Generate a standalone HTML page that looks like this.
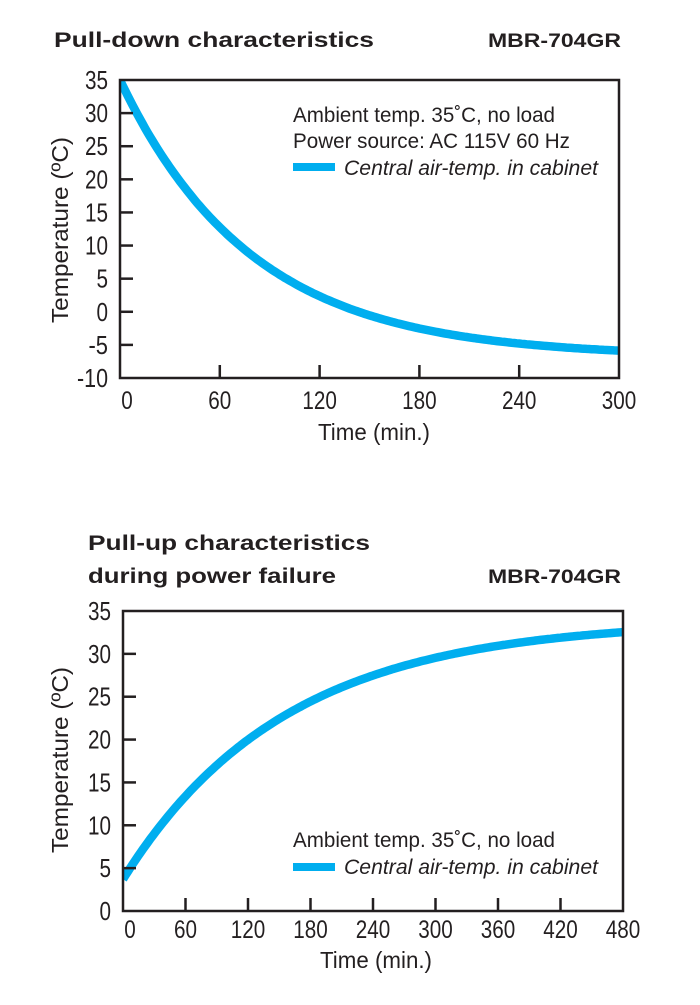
<!DOCTYPE html>
<html><head><meta charset="utf-8"><style>
html,body{margin:0;padding:0;background:#fff;}
svg{display:block;}
text{font-family:"Liberation Sans Narrow","Liberation Sans",sans-serif;fill:#231f20;}
.b{font-family:"Liberation Sans",sans-serif;font-weight:bold;}
</style></head><body>
<svg id="s" width="700" height="1005" xmlns="http://www.w3.org/2000/svg">
<text class="b" x="54" y="47" font-size="21" textLength="320" lengthAdjust="spacingAndGlyphs">Pull-down characteristics</text>
<text class="b" x="488" y="47" font-size="19" textLength="133" lengthAdjust="spacingAndGlyphs">MBR-704GR</text>
<g id="t1"></g>
<text x="293" y="122" font-size="21" textLength="262" lengthAdjust="spacingAndGlyphs">Ambient temp. 35˚C, no load</text>
<text x="293" y="148" font-size="21" textLength="277" lengthAdjust="spacingAndGlyphs">Power source: AC 115V 60 Hz</text>
<line x1="293" y1="167" x2="335" y2="167" stroke="#00aeef" stroke-width="8"/>
<text x="344" y="175" font-size="21" font-style="italic" textLength="254" lengthAdjust="spacingAndGlyphs">Central air-temp. in cabinet</text>
<text x="318" y="440" font-size="23" textLength="112" lengthAdjust="spacingAndGlyphs">Time (min.)</text>
<text transform="translate(68,230) rotate(-90)" text-anchor="middle" font-size="23" textLength="186" lengthAdjust="spacingAndGlyphs">Temperature (ºC)</text>

<text class="b" x="88" y="550" font-size="21" textLength="282" lengthAdjust="spacingAndGlyphs">Pull-up characteristics</text>
<text class="b" x="88" y="583" font-size="21" textLength="248" lengthAdjust="spacingAndGlyphs">during power failure</text>
<text class="b" x="488" y="583" font-size="19" textLength="133" lengthAdjust="spacingAndGlyphs">MBR-704GR</text>
<g id="t2"></g>
<text x="293" y="847" font-size="21" textLength="262" lengthAdjust="spacingAndGlyphs">Ambient temp. 35˚C, no load</text>
<line x1="293" y1="867" x2="335" y2="867" stroke="#00aeef" stroke-width="8"/>
<text x="344" y="874" font-size="21" font-style="italic" textLength="254" lengthAdjust="spacingAndGlyphs">Central air-temp. in cabinet</text>
<text x="320" y="968" font-size="23" textLength="112" lengthAdjust="spacingAndGlyphs">Time (min.)</text>
<text transform="translate(68,760) rotate(-90)" text-anchor="middle" font-size="23" textLength="186" lengthAdjust="spacingAndGlyphs">Temperature (ºC)</text>
</svg>
<script>
var NS="http://www.w3.org/2000/svg";
function el(p,n,a,t){var e=document.createElementNS(NS,n);for(var k in a)e.setAttribute(k,a[k]);if(t!=null)e.textContent=t;p.appendChild(e);return e;}
function tl(s){var w=0;for(var i=0;i<s.length;i++)w+=(s[i]=="-"?8:11.5);return w;}
function chart(g,o){
 var X=function(t){return o.x0+(t/o.tmax)*(o.x1-o.x0);};
 var Y=function(v){return o.y1-(v-o.vmin)/(o.vmax-o.vmin)*(o.y1-o.y0);};
 var d="";for(var t=0;t<=o.tmax;t+=o.tmax/200){d+=(t?"L":"M")+X(t).toFixed(1)+","+Y(o.f(t)).toFixed(1);}
 var cp=el(g,"clipPath",{id:o.id});el(cp,"rect",{x:o.x0,y:o.y0,width:o.x1-o.x0,height:o.y1-o.y0});
 el(g,"path",{d:d,fill:"none",stroke:"#00aeef","stroke-width":8.5,"clip-path":"url(#"+o.id+")"});
 el(g,"rect",{x:o.x0,y:o.y0,width:o.x1-o.x0,height:o.y1-o.y0,fill:"none",stroke:"#231f20","stroke-width":2.5});
 for(var v=o.vmin;v<=o.vmax;v+=5){var y=Y(v),s=String(v),w=tl(s);
  if(v>o.vmin&&v<o.vmax)el(g,"line",{x1:o.x0,y1:y,x2:o.x0+13,y2:y,stroke:"#231f20","stroke-width":2.5});
  el(g,"text",{x:o.x0-12-w,y:y+9,"font-size":26,textLength:w,lengthAdjust:"spacingAndGlyphs"},s);}
 for(var t=0;t<=o.tmax;t+=60){var x=X(t),s=String(t),w=tl(s);
  if(t>0&&t<o.tmax)el(g,"line",{x1:x,y1:o.y1,x2:x,y2:o.y1-13,stroke:"#231f20","stroke-width":2.5});
  var cx=(t==0?x+7:x);
  el(g,"text",{x:cx-w/2,y:o.ly,"font-size":25,textLength:w,lengthAdjust:"spacingAndGlyphs"},s);}
}
chart(document.getElementById("t1"),{id:"c1",x0:120,x1:619,y0:80,y1:378,vmin:-10,vmax:35,tmax:300,ly:409,
 f:function(t){return -6.8+41.8*Math.exp(-t/79);}});
chart(document.getElementById("t2"),{id:"c2",x0:123,x1:623,y0:611,y1:911,vmin:0,vmax:35,tmax:480,ly:938,
 f:function(t){return 33.9-30.2*Math.exp(-t/155);}});
</script>
</body></html>
